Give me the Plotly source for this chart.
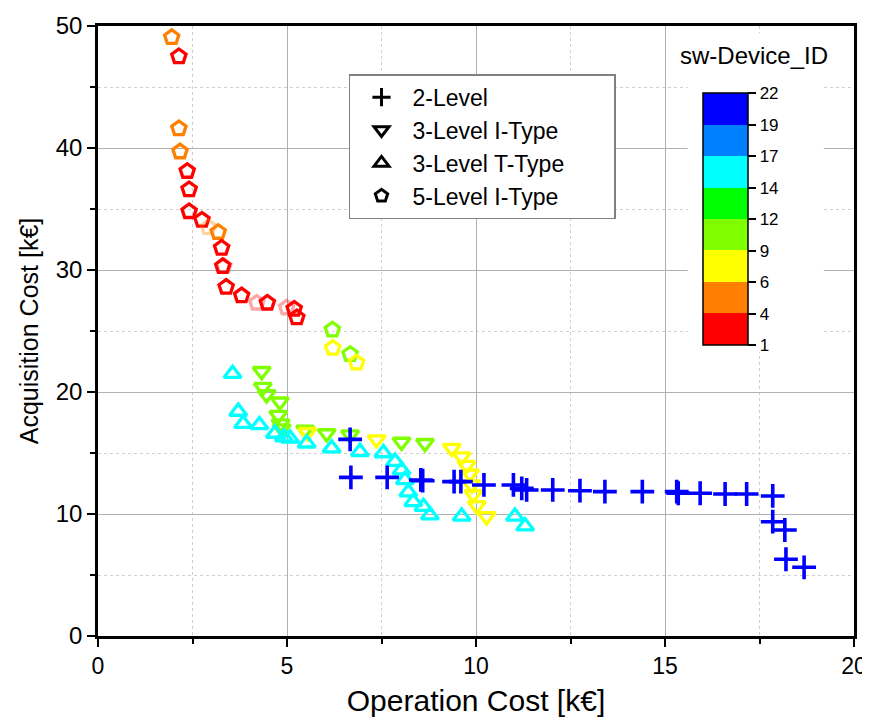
import numpy as np
import plotly.graph_objects as go

# ---------------- data ----------------
# colour-band boundaries of sw-Device_ID (colorbar tick labels)
id_bounds = [1, 4, 6, 9, 12, 14, 17, 19, 22]
band_colors = ["#FF0000", "#FF8000", "#FFFF00", "#80FF00",
               "#00FF00", "#00FFFF", "#0080FF", "#0000FF"]

# 2-Level
lvl2_x = [6.67, 6.69, 7.65, 8.54, 8.59, 9.42, 9.60, 10.21, 10.99, 11.21, 11.34,
          12.03, 12.75, 13.41, 14.40, 15.31, 15.35, 15.93, 16.59, 17.16, 17.85,
          17.85, 18.17, 18.20, 18.68]
lvl2_y = [16.12, 13.0, 13.0, 12.79, 12.73, 12.65, 12.65, 12.38, 12.38, 12.1, 11.97,
          11.97, 11.91, 11.83, 11.83, 11.83, 11.70, 11.70, 11.64, 11.64, 11.48,
          9.37, 8.69, 6.29, 5.63]
lvl2_id = [20] * len(lvl2_x)

# 3-Level I-Type
i3_x = [4.33, 4.36, 4.46, 4.81, 4.77, 4.83, 4.86, 5.48, 5.54, 6.05, 6.67, 7.37,
        8.03, 8.65, 9.36, 9.62, 9.75, 9.84, 9.88, 9.93, 10.02, 10.28]
i3_y = [21.7, 20.4, 19.8, 19.2, 18.1, 17.4, 17.0, 16.9, 16.7, 16.6, 16.5, 16.1,
        15.9, 15.8, 15.4, 14.7, 14.0, 13.3, 12.4, 11.6, 10.7, 9.8]
i3_id = [10, 10, 10, 10, 10, 10, 10, 10, 7, 10, 10, 7,
         10, 10, 7, 7, 7, 7, 7, 7, 7, 7]

# 3-Level T-Type
t3_x = [3.56, 3.71, 3.84, 4.27, 4.68, 4.92, 5.08, 5.52, 6.18, 6.93, 7.55, 7.86,
        8.03, 8.12, 8.21, 8.34, 8.61, 8.78, 9.62, 11.03, 11.30]
t3_y = [21.5, 18.4, 17.4, 17.3, 16.6, 16.3, 16.2, 15.8, 15.4, 15.1, 15.0, 14.3,
        13.6, 12.8, 11.8, 11.0, 10.6, 9.9, 9.8, 9.8, 9.0]
t3_id = [15] * len(t3_x)

# 5-Level I-Type
i5_x = [1.95, 2.14, 2.14, 2.17, 2.36, 2.41, 2.41, 2.75, 2.92, 3.18, 3.27, 3.33,
        3.30, 3.39, 3.80, 4.20, 4.48, 4.99, 5.19, 5.26, 6.20, 6.21, 6.67, 6.84]
i5_y = [49.07, 47.5, 41.6, 39.7, 38.1, 36.6, 34.8, 34.1, 33.5, 33.1, 31.8, 30.3,
        30.3, 28.6, 27.9, 27.3, 27.3, 26.9, 26.8, 26.1, 25.1, 23.6, 23.1, 22.4]
i5_id = [5, 2, 5, 5, 2, 2, 2, 2, 5, 5, 2, 2,
         2, 2, 2, 2, 2, 2, 2, 2, 10, 7, 10, 7]
i5_faded = [0, 0, 0, 0, 0, 0, 0, 0, 1, 0, 0, 1,
            0, 0, 0, 1, 0, 1, 0, 0, 0, 0, 0, 0]

legend_names = ["2-Level", "3-Level I-Type", "3-Level T-Type", "5-Level I-Type"]


def band_value(ids):
    b = np.searchsorted(id_bounds, ids, side="right") - 1
    b = np.clip(b, 0, len(band_colors) - 1)
    return b + 0.5


nb = len(band_colors)
colorscale = []
for i, c in enumerate(band_colors):
    colorscale.append([i / nb, c])
    colorscale.append([(i + 1) / nb, c])

FONT = "Liberation Sans, Arial, sans-serif"

fig = go.Figure()

series = [
    (lvl2_x, lvl2_y, lvl2_id, "cross-thin-open", 17, None),
    (i3_x, i3_y, i3_id, "triangle-down-open", 15, None),
    (t3_x, t3_y, t3_id, "triangle-up-open", 15, None),
    (i5_x, i5_y, i5_id, "pentagon-open", 15, i5_faded),
]

# draw pentagons first, then triangles, then crosses (crosses on top)
for idx in [3, 1, 2, 0]:
    xs, ys, ids, sym, sz, faded = series[idx]
    op = 1.0 if faded is None else [0.35 if f else 1.0 for f in faded]
    lw = 3.6 if idx == 0 else 3.3
    fig.add_trace(go.Scatter(
        x=xs, y=ys, mode="markers", showlegend=False,
        marker=dict(symbol=sym, size=sz, color=band_value(ids),
                    coloraxis="coloraxis", opacity=op,
                    line=dict(width=lw)),
        hoverinfo="x+y",
    ))

legend_syms = ["cross-thin-open", "triangle-down-open", "triangle-up-open", "pentagon-open"]
pad = "\u00a0" * 7
for name, sym in zip(legend_names, legend_syms):
    fig.add_trace(go.Scatter(
        x=[None], y=[None], mode="markers", name=name + pad,
        marker=dict(symbol=sym, size=13, color="black", line=dict(width=3)),
    ))

# white background behind colour bar
fig.add_shape(type="rect", xref="x", yref="y", x0=15.6, x1=19.2, y0=23.3, y1=49.4,
              fillcolor="white", line=dict(width=0), layer="between")

fig.add_annotation(text="sw-Device_ID", xref="paper", yref="paper",
                   x=0.868, y=0.952, xanchor="center", yanchor="middle", showarrow=False,
                   font=dict(size=24, color="black", family=FONT))

fig.update_layout(
    width=870, height=722,
    margin=dict(l=90, r=24, t=18, b=94, autoexpand=False),
    paper_bgcolor="white", plot_bgcolor="white",
    font=dict(family=FONT, color="black"),
    coloraxis=dict(
        colorscale=colorscale, cmin=0, cmax=nb,
        colorbar=dict(
            x=0.80, xanchor="left", y=0.89, yanchor="top",
            len=0.413, lenmode="fraction", thickness=45, thicknessmode="pixels",
            xpad=0, ypad=0, outlinewidth=1.5, outlinecolor="black",
            tickmode="array", tickvals=list(range(nb + 1)),
            ticktext=[str(v) for v in id_bounds],
            ticks="outside", ticklen=8, tickwidth=1.5, tickcolor="black",
            tickfont=dict(size=17, family=FONT, color="black"),
        ),
    ),
    legend=dict(
        x=0.332, y=0.921, xanchor="left", yanchor="top",
        bgcolor="white", bordercolor="#808080", borderwidth=1.5,
        font=dict(size=23, family=FONT, color="black"),
        tracegroupgap=0, itemwidth=52,
    ),
    xaxis=dict(
        range=[0, 20], dtick=5, tick0=0, automargin=False,
        showline=True, linecolor="black", linewidth=2.5, mirror=True,
        ticks="outside", ticklen=8, tickwidth=2, tickcolor="black",
        showgrid=True, gridcolor="#B0B0B0", gridwidth=1, zeroline=False,
        tickfont=dict(size=23, family=FONT),
        title=dict(text="Operation Cost [k€]", font=dict(size=30, family=FONT), standoff=12),
        minor=dict(dtick=2.5, ticks="outside", ticklen=5, tickwidth=2, tickcolor="black",
                   showgrid=True, gridcolor="#D0D0D0", griddash="dot", gridwidth=1),
    ),
    yaxis=dict(
        range=[0, 50], dtick=10, tick0=0, automargin=False,
        showline=True, linecolor="black", linewidth=2.5, mirror=True,
        ticks="outside", ticklen=8, tickwidth=2, tickcolor="black",
        showgrid=True, gridcolor="#B0B0B0", gridwidth=1, zeroline=False,
        tickfont=dict(size=24, family=FONT),
        title=dict(text="Acquisition Cost [k€]", font=dict(size=25, family=FONT), standoff=10),
        minor=dict(dtick=5, ticks="outside", ticklen=5, tickwidth=2, tickcolor="black",
                   showgrid=True, gridcolor="#D0D0D0", griddash="dot", gridwidth=1),
    ),
)

fig.write_html("out.html")
